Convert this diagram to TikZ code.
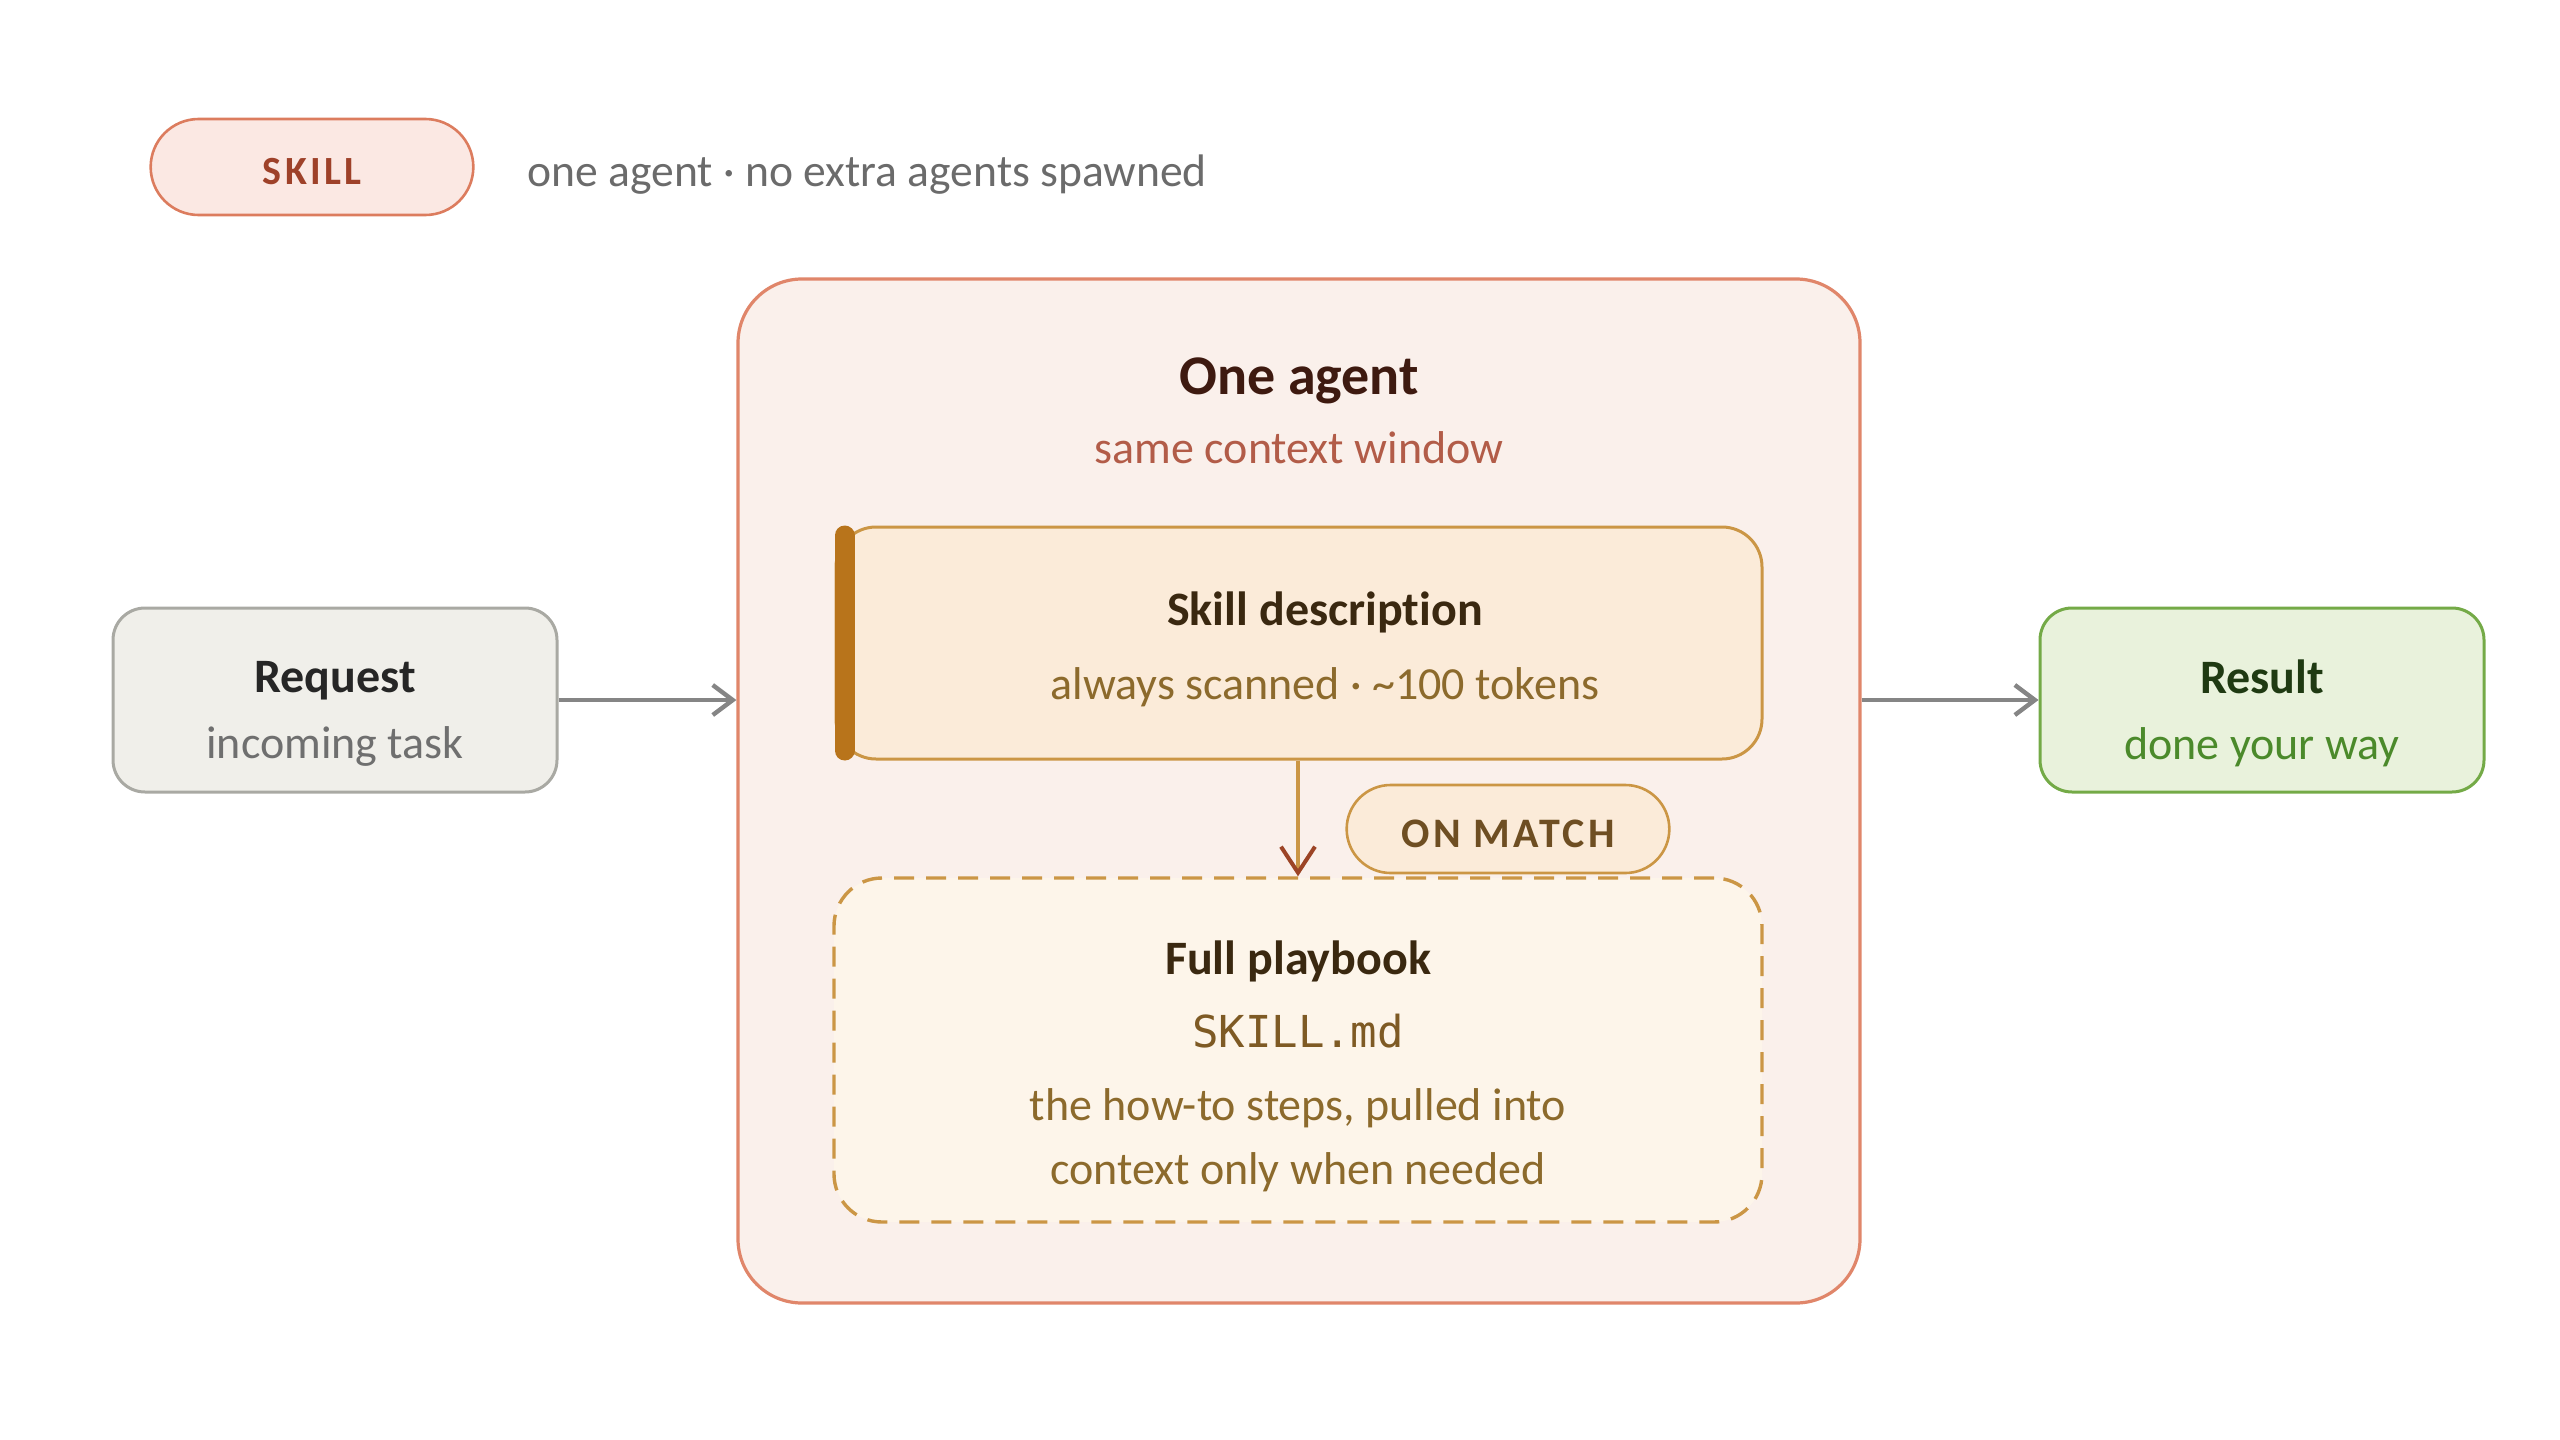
\documentclass[tikz,border=0pt]{standalone}
\usepackage{fontspec}
\setmainfont[Ligatures=NoCommon]{Carlito}
\setmonofont{DejaVu Sans Mono}
\usetikzlibrary{positioning,arrows.meta,shapes.misc}

\definecolor{tagfill}{HTML}{FBE8E3}
\definecolor{tagline}{HTML}{DC7C5E}
\definecolor{tagtext}{HTML}{9E4129}
\definecolor{notegray}{HTML}{6B6B6B}
\definecolor{agentfill}{HTML}{FAF0EB}
\definecolor{agentline}{HTML}{E0866A}
\definecolor{agenttitle}{HTML}{3E1A10}
\definecolor{agentsub}{HTML}{B25C48}
\definecolor{descfill}{HTML}{FBEBD9}
\definecolor{descline}{HTML}{CB9645}
\definecolor{descbar}{HTML}{B8741B}
\definecolor{desctitle}{HTML}{3A2810}
\definecolor{descsub}{HTML}{8C6A2C}
\definecolor{bookfill}{HTML}{FDF5EA}
\definecolor{monotext}{HTML}{7E5A24}
\definecolor{matchtext}{HTML}{6E4E22}
\definecolor{reqfill}{HTML}{F0EFEA}
\definecolor{reqline}{HTML}{A9A9A3}
\definecolor{reqsub}{HTML}{6F6F6F}
\definecolor{resfill}{HTML}{E9F2DC}
\definecolor{resline}{HTML}{74AA47}
\definecolor{restitle}{HTML}{1F3A12}
\definecolor{ressub}{HTML}{4B8A2B}
\definecolor{flowgray}{HTML}{858585}
\definecolor{matchhead}{HTML}{9C4426}

\begin{document}
\begin{tikzpicture}[x=0.5pt,y=-0.5pt,
    txt/.style={font=\fontsize{23pt}{27pt}\selectfont},
    endbox/.style={draw, rounded corners=16pt, line width=1.5pt,
        minimum width=222pt, minimum height=92pt},
    pill/.style={rounded rectangle, draw, line width=1.3pt, minimum width=168pt, text height=18pt,
        font=\fontsize{20pt}{22pt}\selectfont\bfseries\addfontfeature{LetterSpace=8}},
    flow/.style={draw=flowgray, line width=2.2pt, -{Straight Barb[length=10pt,width=15pt]}}]

    \useasboundingbox (0,0) rectangle (2560,1440);

    % legend
    \node[pill, fill=tagfill, draw=tagline, text=tagtext, minimum height=48pt] (tag) at (312,167) {SKILL};
    \node[txt, text=notegray, right=23pt of tag, yshift=-4pt, font=\fontsize{22.8pt}{27pt}\selectfont] (tagnote) {one agent · no extra agents spawned};

    % the agent frame
    \node[draw=agentline, fill=agentfill, line width=1.6pt, rounded corners=32pt,
        minimum width=561pt, minimum height=512pt] (agent) at (1299,791) {};
    \node[font=\fontsize{28pt}{32pt}\selectfont\bfseries, text=agenttitle] (agentname) at (1299,381) {One agent};
    \node[txt, text=agentsub] (agentctx) at (1299,448) {same context window};

    \node[draw=descline, fill=descfill, line width=1.5pt, rounded corners=20pt,
        minimum width=463pt, minimum height=116pt] (desc) at (1299,643) {};
    \draw[descbar, line width=10pt, line cap=round] ([xshift=5pt,yshift=-5pt]desc.north west) -- ([xshift=5pt,yshift=5pt]desc.south west);
    \node[txt, align=center, text=descsub] (desctext) at (1325,649)
        {{\color{desctitle}\fontsize{24pt}{27pt}\selectfont\bfseries Skill description}\\[10pt]always scanned · \textasciitilde100 tokens};

    \node[draw=descline, fill=bookfill, line width=1.7pt, dashed, dash pattern=on 10pt off 6pt,
        rounded corners=24pt, minimum width=464pt, minimum height=172pt] (book) at (1298,1050) {};
    \node[txt, align=center, text=descsub] (booktext) at (1298,1066)
        {{\color{desctitle}\fontsize{24pt}{27pt}\selectfont\bfseries Full playbook}\\[9.5pt]
         {\ttfamily\fontsize{22pt}{24pt}\selectfont\color{monotext}SKILL.md}\\[9.5pt]
         the how-to steps, pulled into\\[5pt]
         context only when needed};

    \node[pill, fill=descfill, draw=descline, text=matchtext, minimum height=44pt, text height=18.5pt,
        font=\fontsize{21pt}{22pt}\selectfont\bfseries\addfontfeature{LetterSpace=8}] (match) at (1508,829) {ON MATCH};

    \draw[descline, line width=2pt, -{Straight Barb[length=13pt,width=17pt,color=matchhead]}] (desc.south -| book.north) -- (book.north);

    % in and out
    \node[endbox, fill=reqfill, draw=reqline] (request) at (335,700) {};
    \node[txt, align=center, text=reqsub] (requesttext) at (335,714)
        {{\color{black!85}\fontsize{24pt}{27pt}\selectfont\bfseries Request}\\[6pt]incoming task};
    \node[endbox, fill=resfill, draw=resline] (result) at (2262,700) {};
    \node[txt, align=center, text=ressub] (resulttext) at (2262,713)
        {{\color{restitle}\fontsize{24pt}{27pt}\selectfont\bfseries Result}\\[6pt]done your way};

    \draw[flow] (request.east) -- (agent.west |- request.east);
    \draw[flow] (agent.east |- result.west) -- (result.west);
\end{tikzpicture}
\end{document}
